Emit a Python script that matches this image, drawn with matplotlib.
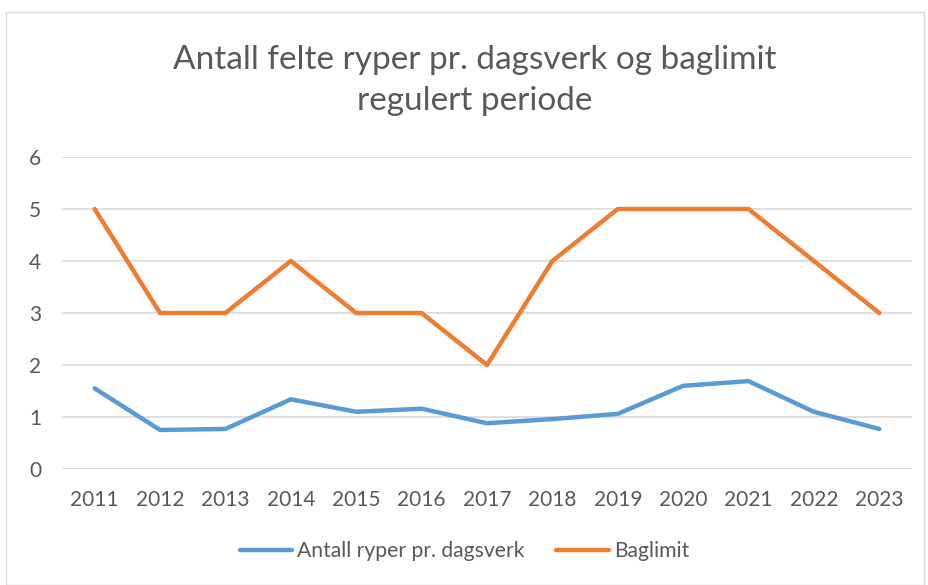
import matplotlib
matplotlib.use("Agg")
import matplotlib.pyplot as plt
from matplotlib.patches import Rectangle

plt.rcParams['font.family'] = ['Lato', 'DejaVu Sans']

years = ['2011', '2012', '2013', '2014', '2015', '2016', '2017',
         '2018', '2019', '2020', '2021', '2022', '2023']
ryper = [1.55, 0.75, 0.77, 1.34, 1.10, 1.16, 0.88, 0.96, 1.06, 1.60, 1.69, 1.10, 0.77]
baglimit = [5, 3, 3, 4, 3, 3, 2, 4, 5, 5, 5, 4, 3]

text_col = '#595959'
grid_col = '#D9D9D9'

fig = plt.figure(figsize=(9.29, 5.85), dpi=100)
fig.patches.append(Rectangle((0.006, 0.0), 0.989, 0.979, transform=fig.transFigure,
                             fill=False, edgecolor='#D9D9D9', linewidth=1))

ax = fig.add_axes([0.0667, 0.1983, 0.915, 0.5333])
x = list(range(len(years)))
ax.plot(x, ryper, color='#5B9BD5', lw=3.2, solid_capstyle='round',
        solid_joinstyle='round', label='Antall ryper pr. dagsverk')
ax.plot(x, baglimit, color='#ED7D31', lw=3.2, solid_capstyle='round',
        solid_joinstyle='round', label='Baglimit')

ax.set_xlim(-0.5, len(years) - 0.5)
ax.set_ylim(0, 6)
ax.set_yticks(range(7))
ax.set_xticks(x)
ax.set_xticklabels(years)
ax.grid(axis='y', color=grid_col, lw=1.2)
ax.set_axisbelow(True)
for s in ax.spines.values():
    s.set_visible(False)
ax.tick_params(length=0, labelsize=15, colors=text_col)
ax.tick_params(axis='y', pad=15)
ax.tick_params(axis='x', pad=15)

fig.text(0.511, 0.862, 'Antall felte ryper pr. dagsverk og baglimit\nregulert periode',
         ha='center', va='center', fontsize=24, color=text_col, linespacing=1.45)

fig.legend(loc='center', bbox_to_anchor=(0.5, 0.058), ncol=2, frameon=False,
           fontsize=15.2, labelcolor=text_col, handlelength=2.5, handletextpad=0.23,
           columnspacing=1.5)

fig.savefig('out.png', dpi=100)
